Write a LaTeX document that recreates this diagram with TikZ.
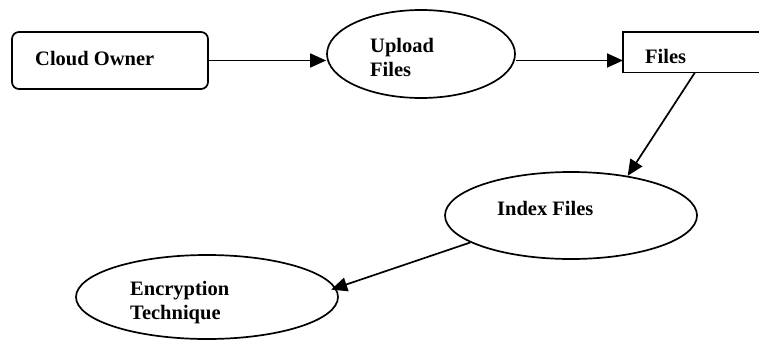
\documentclass[tikz,border=0pt]{standalone}
\usepackage{fontspec}
\setmainfont{Liberation Serif}
\usetikzlibrary{shapes.geometric,arrows.meta}
\begin{document}
\begin{tikzpicture}[x=1pt,y=-1pt,
  every node/.style={font=\fontsize{20.5}{24}\selectfont\bfseries},
  ln/.style={line width=1.7pt,black},
  arr/.style={ln,-{Triangle[length=16pt,width=14pt]}},
  ell/.style={ellipse,draw,line width=1.7pt,inner sep=0pt},
  lbl/.style={anchor=base west,inner sep=0pt}]
\useasboundingbox (0,0) rectangle (759,340);
% nodes
\node[draw,line width=1.7pt,rounded corners=7pt,minimum width=196pt,minimum height=57pt,inner sep=0pt] (owner) at (110,60.5) {};
\node[lbl] (ownert) at (35,65) {Cloud Owner};
\node[ell,minimum width=188pt,minimum height=88pt] (upload) at (421,54) {};
\node[lbl] (uploadt1) at (370,52) {Upload};
\node[lbl] (uploadt2) at (370,76) {Files};
\node[minimum width=150pt,minimum height=40pt,inner sep=0pt,anchor=north west] (files) at (623,32) {};
\draw[ln] (files.north east) -- (files.north west) -- (files.south west) -- (files.south east);
\node[lbl] (filest) at (645,63) {Files};
\node[ell,minimum width=252pt,minimum height=87pt] (index) at (571,215.5) {};
\node[lbl] (indext) at (497,215) {Index Files};
\node[ell,minimum width=262pt,minimum height=84pt] (enc) at (207,297) {};
\node[lbl] (enct1) at (130,295) {Encryption};
\node[lbl] (enct2) at (130,319) {Technique};
% connectors
\coordinate (fs) at ([xshift=72pt]files.south west);
\draw[arr] (owner.east) -- (owner.east -| upload.west);
\draw[arr] (owner.east -| upload.east) -- (owner.east -| files.west);
\draw[arr] (fs) -- (index.35);
\draw[arr,shorten >=-5pt] (index.195) -- (enc.4);
\end{tikzpicture}
\end{document}
